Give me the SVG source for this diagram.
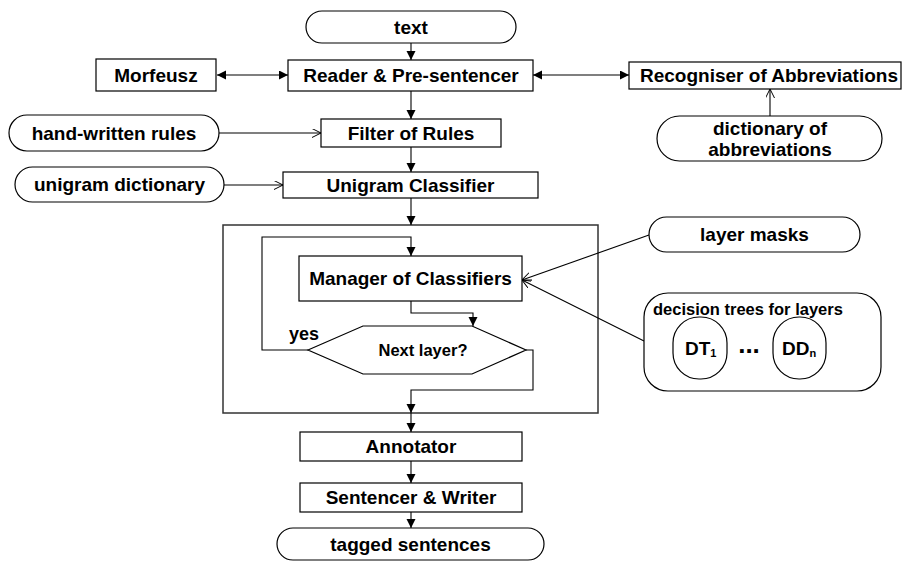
<svg xmlns="http://www.w3.org/2000/svg" width="902" height="561" viewBox="0 0 902 561">
<style>
  .box{fill:#fff;stroke:#000;stroke-width:1.2}
  .outer{fill:#fff;stroke:#333;stroke-width:1.5}
  .t{font-family:"Liberation Sans",Arial,sans-serif;font-weight:bold;font-size:19px;fill:#000;text-anchor:middle}
  .s{font-size:16.5px}
  .ln{fill:none;stroke:#000;stroke-width:1.1}
</style>
<defs>
  <marker id="fa" markerUnits="userSpaceOnUse" markerWidth="10" markerHeight="10" refX="9" refY="4.5" orient="auto-start-reverse">
    <path d="M0,0 L9,4.5 L0,9 z" fill="#000"/>
  </marker>
  <marker id="oa" markerUnits="userSpaceOnUse" markerWidth="11" markerHeight="11" refX="9" refY="4.5" orient="auto-start-reverse">
    <path d="M0,0 L9,4.5 L0,9" fill="none" stroke="#000" stroke-width="1"/>
  </marker>
</defs>
<rect width="902" height="561" fill="#fff"/>

<g id="outer-box"><rect class="outer" x="223" y="225" width="375" height="188"/></g>

<g id="connectors">
  <line class="ln" x1="411" y1="43" x2="411" y2="60" marker-end="url(#fa)"/>
  <line class="ln" x1="217" y1="75" x2="288" y2="75" marker-start="url(#fa)" marker-end="url(#fa)"/>
  <line class="ln" x1="533" y1="75" x2="629" y2="75" marker-start="url(#fa)" marker-end="url(#fa)"/>
  <line class="ln" x1="770" y1="116" x2="770" y2="89" marker-end="url(#oa)"/>
  <line class="ln" x1="411" y1="91" x2="411" y2="119" marker-end="url(#fa)"/>
  <line class="ln" x1="219" y1="133" x2="321" y2="133" marker-end="url(#oa)"/>
  <line class="ln" x1="411" y1="147" x2="411" y2="172" marker-end="url(#fa)"/>
  <line class="ln" x1="224" y1="185" x2="283" y2="185" marker-end="url(#oa)"/>
  <line class="ln" x1="411" y1="198" x2="411" y2="225" marker-end="url(#fa)"/>
  <polyline class="ln" points="308,350 262,350 262,237 411,237 411,256" marker-end="url(#fa)"/>
  <polyline class="ln" points="411,301 411,313 473,313 473,326" marker-end="url(#fa)"/>
  <polyline class="ln" points="526,350 533,350 533,390 411,390 411,413" marker-end="url(#fa)"/>
  <line class="ln" x1="411" y1="413" x2="411" y2="432" marker-end="url(#fa)"/>
  <line class="ln" x1="411" y1="461" x2="411" y2="483" marker-end="url(#fa)"/>
  <line class="ln" x1="411" y1="512" x2="411" y2="528" marker-end="url(#fa)"/>
  <line class="ln" x1="649" y1="235" x2="522" y2="280" marker-end="url(#oa)"/>
  <line class="ln" x1="644" y1="341" x2="522" y2="280" marker-end="url(#oa)"/>
</g>

<g id="text-node"><rect class="box" x="306" y="11" width="210" height="32" rx="16"/><text class="t" x="411" y="33.5">text</text></g>
<g id="morfeusz"><rect class="box" x="96" y="59" width="120" height="32"/><text class="t" x="156" y="82">Morfeusz</text></g>
<g id="reader"><rect class="box" x="288" y="60" width="245" height="31"/><text class="t" x="411" y="82">Reader &amp; Pre-sentencer</text></g>
<g id="recogniser"><rect class="box" x="629" y="62" width="272" height="27"/><text class="t" x="769" y="82">Recogniser of Abbreviations</text></g>
<g id="dict-abbr"><rect class="box" x="657" y="116" width="225" height="45" rx="22.5"/><text class="t" x="770" y="135">dictionary of</text><text class="t" x="770" y="156">abbreviations</text></g>
<g id="hand-written"><rect class="box" x="9" y="115" width="210" height="36" rx="18"/><text class="t" x="114" y="139.5">hand-written rules</text></g>
<g id="filter"><rect class="box" x="321" y="119" width="180" height="28"/><text class="t" x="411" y="139.5">Filter of Rules</text></g>
<g id="unigram-dict"><rect class="box" x="15" y="167" width="209" height="35" rx="17.5"/><text class="t" x="119.5" y="191">unigram dictionary</text></g>
<g id="unigram-classifier"><rect class="box" x="283" y="172" width="255" height="26"/><text class="t" x="410.5" y="191.5">Unigram Classifier</text></g>
<g id="manager"><rect class="box" x="299" y="256" width="223" height="45"/><text class="t" x="410.5" y="285">Manager of Classifiers</text></g>
<g id="next-layer"><polygon class="box" points="308,350 363,326 472,326 526,350 472,374 363,374"/><text class="t s" x="423" y="356">Next layer?</text></g>
<g id="yes-label"><text class="t" x="304" y="340" style="font-size:18px">yes</text></g>
<g id="annotator"><rect class="box" x="300" y="432" width="222" height="29"/><text class="t" x="411" y="453">Annotator</text></g>
<g id="sentencer"><rect class="box" x="300" y="483" width="222" height="29"/><text class="t" x="411" y="504">Sentencer &amp; Writer</text></g>
<g id="tagged"><rect class="box" x="277" y="528" width="267" height="32" rx="16"/><text class="t" x="410.5" y="550.5">tagged sentences</text></g>
<g id="layer-masks"><rect class="box" x="649" y="217" width="211" height="35" rx="17.5"/><text class="t" x="754.5" y="241">layer masks</text></g>
<g id="decision-trees">
  <rect class="box" x="644" y="293" width="237" height="98" rx="24"/>
  <text class="t s" x="653" y="315" style="text-anchor:start">decision trees for layers</text>
  <rect class="box" x="673" y="317" width="54" height="62" rx="26"/>
  <text class="t" x="685" y="355" style="text-anchor:start">DT<tspan style="font-size:11px" dy="2">1</tspan></text>
  <text class="t" x="749" y="353" style="font-size:26px">...</text>
  <rect class="box" x="773" y="317" width="53" height="62" rx="26"/>
  <text class="t" x="782" y="355" style="text-anchor:start">DD<tspan style="font-size:11px" dy="2">n</tspan></text>
</g>
</svg>
